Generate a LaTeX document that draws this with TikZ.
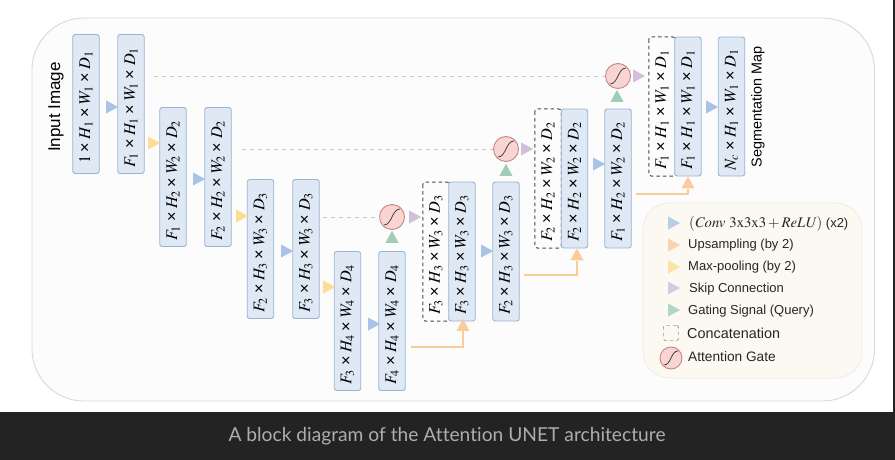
\documentclass[tikz,border=0pt]{standalone}
\usepackage{mathptmx}
\usepackage[no-math]{fontspec}
\setmainfont{Liberation Sans}
\newfontfamily\captionfont[Ligatures=NoCommon]{Lato}
\usetikzlibrary{shapes.geometric}

\definecolor{blockfill}{HTML}{DFE8F5}
\definecolor{blockline}{HTML}{9DB4D0}
\definecolor{bluehead}{HTML}{A9C3E6}
\definecolor{yellowhead}{HTML}{FBDD96}
\definecolor{orangehead}{HTML}{FBCB9C}
\definecolor{purplehead}{HTML}{D4BFDB}
\definecolor{greenhead}{HTML}{A1CDB7}
\definecolor{gatefill}{HTML}{F8D5D3}
\definecolor{gateline}{HTML}{C98585}
\definecolor{skipgray}{HTML}{CFCBD3}
\definecolor{bandcolor}{HTML}{232323}
\definecolor{panelfill}{HTML}{FCFCFC}
\definecolor{panelline}{HTML}{D9D9D9}
\definecolor{legendfill}{HTML}{FBF9F1}
\definecolor{legendline}{HTML}{F0EDE2}

\tikzset{
    block/.style={draw=blockline, fill=blockfill, line width=0.9pt, rounded corners=2.5pt,
        minimum width=139pt, minimum height=26.5pt, inner sep=0pt, rotate=90,
        font=\fontsize{16.3}{18}\selectfont},
    concatbox/.style={block, draw=black!70, fill=none, line width=1pt, dash pattern=on 3.5pt off 3pt},
    head/.style={isosceles triangle, isosceles triangle stretches, draw=none, inner sep=0pt,
        minimum height=12pt, minimum width=13pt, anchor=center},
    keyhead/.style={head, fill opacity=0.8},
    gate/.style={circle, draw=gateline, fill=gatefill, line width=0.9pt, minimum size=25pt, inner sep=0pt},
    skip/.style={color=skipgray, line width=0.9pt, dash pattern=on 4pt off 4pt},
    upline/.style={color=orangehead, line width=1.1pt},
    legendtext/.style={anchor=west, inner sep=0pt, font=\fontsize{13}{15}\selectfont, text=black!85}
}

\newcommand{\dimgap}{\hspace{3.6pt}×\hspace{3.6pt}}
\newcommand{\dimtext}[4]{$#1$\dimgap$H_{#2}$\dimgap$W_{#3}$\dimgap$D_{#4}$\kern 7pt}
\newcommand{\sigmoid}[2]{\draw[line width=0.8pt, black!75] ([shift={(-#2,-#2)}]#1.center) .. controls ([shift={(0pt,-#2)}]#1.center) and ([shift={(0pt,#2)}]#1.center) .. ([shift={(#2,#2)}]#1.center);}

\begin{document}
\begin{tikzpicture}[x=1pt, y=-1pt]
    \useasboundingbox (0, 0) rectangle (895, 460);
    \fill[white] (0, 0) rectangle (895, 460);

    % outer panel and caption band
    \draw[draw=panelline, fill=panelfill, line width=0.9pt, rounded corners=52pt] (32, 18) rectangle (874.5, 401);
    \fill[bandcolor] (0, 412) rectangle (895, 460);
    \fill[bandcolor] (893, 0) rectangle (895, 412);
    \node[text=white!68!black, font=\captionfont\fontsize{19.2}{21}\selectfont] (caption) at (447, 436.5)
        {A block diagram of the Attention UNET architecture};

    % side labels
    \node[rotate=90, font=\fontsize{17}{19}\selectfont] (inputlabel) at (56, 107) {Input Image};
    \node[rotate=90, font=\fontsize{14.4}{16}\selectfont] (outputlabel) at (758, 107) {Segmentation Map};

    % encoder
    \node[block] (enc1a) at (86, 104) {\dimtext{1}{1}{1}{1}};
    \node[block] (enc1b) at (131, 104) {\dimtext{F_1}{1}{1}{1}};
    \node[block] (enc2a) at (173, 177) {\dimtext{F_1}{2}{2}{2}};
    \node[block] (enc2b) at (218, 177) {\dimtext{F_2}{2}{2}{2}};
    \node[block] (enc3a) at (260.5, 249) {\dimtext{F_2}{3}{3}{3}};
    \node[block] (enc3b) at (306, 249) {\dimtext{F_3}{3}{3}{3}};
    \node[block] (enc4a) at (347.5, 321) {\dimtext{F_3}{4}{4}{4}};
    \node[block] (enc4b) at (392, 321) {\dimtext{F_4}{4}{4}{4}};

    % decoder
    \node[concatbox] (cat3) at (436, 251.5) {\dimtext{F_3}{3}{3}{3}};
    \node[block] (dec3a) at (462, 251.5) {\dimtext{F_3}{3}{3}{3}};
    \node[block] (dec3b) at (506, 251.5) {\dimtext{F_2}{3}{3}{3}};
    \node[concatbox] (cat2) at (548, 178.5) {\dimtext{F_2}{2}{2}{2}};
    \node[block] (dec2a) at (574.5, 178.5) {\dimtext{F_2}{2}{2}{2}};
    \node[block] (dec2b) at (618, 178.5) {\dimtext{F_1}{2}{2}{2}};
    \node[concatbox] (cat1) at (662, 106.5) {\dimtext{F_1}{1}{1}{1}};
    \node[block] (dec1a) at (688, 106.5) {\dimtext{F_1}{1}{1}{1}};
    \node[block] (dec1b) at (731.5, 106.5) {\dimtext{N_c}{1}{1}{1}};

    % arrow heads
    \foreach \name/\x/\y in {a/110/107, b/197/179, c/285/251, d/372/324, e/485/251, f/597/164, g/710/107}
        \node[head, fill=bluehead] (conv\name) at (\x, \y) {};
    \foreach \name/\x/\y in {a/152/143, b/240/216, c/327/287}
        \node[head, fill=yellowhead] (pool\name) at (\x, \y) {};
    \foreach \name/\x/\y in {a/413/217, b/525/149, c/637/76}
        \node[head, fill=purplehead] (skip\name) at (\x, \y) {};
    \foreach \name/\x/\y in {a/392/239, b/506/172, c/617/98}
        \node[head, fill=greenhead, shape border rotate=90] (query\name) at (\x, \y) {};
    \foreach \name/\x/\y in {a/463/327, b/577/256.5, c/688/184.5}
        \node[head, fill=orangehead, shape border rotate=90] (up\name) at (\x, \y) {};

    % skip connections
    \coordinate (skipstart1) at (154, 76);
    \coordinate (skipstart2) at (242, 149);
    \coordinate (skipstart3) at (323, 217);
    \node[gate] (gate3) at (392, 217) {};
    \node[gate] (gate2) at (506, 149) {};
    \node[gate] (gate1) at (618, 76) {};
    \draw[skip] (skipstart1) -- (gate1);
    \draw[skip] (skipstart2) -- (gate2);
    \draw[skip] (skipstart3) -- (gate3);

    % attention gates
    \sigmoid{gate3}{8pt}
    \sigmoid{gate2}{8pt}
    \sigmoid{gate1}{8pt}

    % upsampling lines
    \coordinate (upstart3) at (411, 347);
    \coordinate (upstart2) at (524, 275);
    \coordinate (upstart1) at (636, 194);
    \draw[upline] (upstart3) -| (upa.lower side);
    \draw[upline] (upstart2) -| (upb.lower side);
    \draw[upline] (upstart1) -| (upc.lower side);

    % legend
    \draw[draw=legendline, fill=legendfill, line width=0.8pt, rounded corners=26pt] (643, 203) rectangle (862, 378);
    \node[keyhead, fill=bluehead] (keyconv) at (672, 223) {};
    \node[keyhead, fill=orangehead] (keyup) at (672, 245) {};
    \node[keyhead, fill=yellowhead] (keypool) at (672, 267) {};
    \node[keyhead, fill=purplehead] (keyskip) at (672, 288) {};
    \node[keyhead, fill=greenhead] (keyquery) at (672, 310) {};
    \node[legendtext] (textconv) at (689, 224) {{\fontsize{14.7}{16}\selectfont $(\mathit{Conv}\ \mathrm{3x3x3}+\mathit{ReLU})$} (x2)};
    \node[legendtext] (textup) at (688, 245) {Upsampling (by 2)};
    \node[legendtext] (textpool) at (688, 267) {Max-pooling (by 2)};
    \node[legendtext] (textskip) at (689, 289) {Skip Connection};
    \node[legendtext] (textquery) at (688, 311) {Gating Signal (Query)};
    \node[draw=black!70, dash pattern=on 3.5pt off 3pt, rounded corners=2pt, minimum size=15pt, inner sep=0pt] (keycat) at (671, 333) {};
    \node[legendtext, font=\fontsize{14.4}{16}\selectfont] (textcat) at (687, 333) {Concatenation};
    \node[gate, minimum size=22pt] (keygate) at (671, 358) {};
    \sigmoid{keygate}{7pt}
    \node[legendtext, font=\fontsize{13.7}{15}\selectfont] (textgate) at (688, 357) {Attention Gate};
\end{tikzpicture}
\end{document}
